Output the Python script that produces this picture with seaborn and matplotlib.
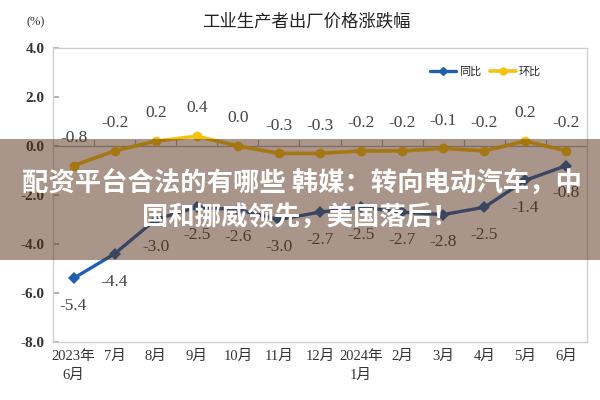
import matplotlib
matplotlib.use("Agg")
import matplotlib.pyplot as plt
from matplotlib.patches import Rectangle
from matplotlib.lines import Line2D
import seaborn as sns
import pandas as pd
import numpy as np

# ---- data ----
months = ["2023年\n6月", "7月", "8月", "9月", "10月", "11月", "12月",
          "2024年\n1月", "2月", "3月", "4月", "5月", "6月"]
yoy = [-5.4, -4.4, -3.0, -2.5, -2.6, -3.0, -2.7, -2.5, -2.7, -2.8, -2.5, -1.4, -0.8]
mom = [-0.8, -0.2, 0.2, 0.4, 0.0, -0.3, -0.3, -0.2, -0.2, -0.1, -0.2, 0.2, -0.2]
yticks = [4.0, 2.0, 0.0, -2.0, -4.0, -6.0, -8.0]
title = "工业生产者出厂价格涨跌幅"
series_names = ["同比", "环比"]
banner_lines = ["配资平台合法的有哪些 韩媒：转向电动汽车，中", "国和挪威领先，美国落后！"]

sns.set_theme(style="white")
plt.rcParams["font.family"] = ["Liberation Serif", "Noto Sans CJK SC", "DejaVu Sans"]

BLUE = "#1f5fb0"
GOLD = "#f5c210"

df = pd.DataFrame({"idx": np.arange(len(months)), "yoy": yoy, "mom": mom})

fig = plt.figure(figsize=(6, 4), dpi=100)
ax = fig.add_axes([53/600, 1-342/400, 534/600, 294/400])

sns.lineplot(data=df, x="idx", y="yoy", ax=ax, color=BLUE, lw=2.4,
             marker="D", markersize=6, markeredgewidth=0, zorder=3)
sns.lineplot(data=df, x="idx", y="mom", ax=ax, color=GOLD, lw=2.6,
             marker="o", markersize=7, markeredgewidth=0, zorder=3)

ax.set_xlim(-0.5, len(months) - 0.5)
ax.set_ylim(-8, 4)
ax.set_xlabel("")
ax.set_ylabel("")

for s in ax.spines.values():
    s.set_color("#cfcfcf")
    s.set_linewidth(1.0)

ax.axhline(0, color="#a8a8a8", lw=0.9, zorder=1)
for b in np.arange(0.5, len(months) - 0.5, 1.0):
    ax.plot([b, b], [0, 0.25], color="#a8a8a8", lw=0.9, zorder=1)

ax.set_yticks(yticks)
ax.set_yticklabels([f"{v:.1f}" for v in yticks], fontsize=11, fontweight="bold",
                   color="#333333", family=["Liberation Serif"])
ax.tick_params(axis="y", direction="in", length=4, color="#a8a8a8", left=True, pad=6)
ax.set_xticks(np.arange(len(months)))
ax.set_xticklabels(months, fontsize=10.5, color="#333333",
                   family=["Liberation Serif", "Noto Sans CJK SC"], linespacing=1.5)
ax.tick_params(axis="x", length=0, pad=6)

for i, (a, b) in enumerate(zip(yoy, mom)):
    ax.annotate(f"{b:.1f}", (i, b), xytext=(0, 20), textcoords="offset points",
                ha="center", va="center", fontsize=12.5, color="#444444")
    ax.annotate(f"{a:.1f}", (i, a), xytext=(0, -20), textcoords="offset points",
                ha="center", va="center", fontsize=12.5, color="#444444")

handles = [Line2D([0], [0], color=BLUE, lw=2.4, marker="D", markersize=4),
           Line2D([0], [0], color=GOLD, lw=2.6, marker="o", markersize=5)]
ax.legend(handles, series_names, loc="center", bbox_to_anchor=(0.81, 0.918), ncol=2,
          frameon=False, handlelength=2.3, columnspacing=0.8,
          handletextpad=0.3, prop={"family": ["Noto Sans CJK SC"], "size": 8})

fig.text(0.511, 1-22/400, title, ha="center", va="center", fontsize=12.5,
         family=["Noto Sans CJK SC"], color="#222222")
fig.text(36/600, 1-22/400, "(%)", ha="center", va="center", fontsize=9,
         color="#333333")

rect = Rectangle((0, 1-260/400), 1, 121/400, transform=fig.transFigure,
                 facecolor=(85/255, 45/255, 21/255), alpha=0.5, edgecolor="none",
                 zorder=10)
fig.patches.append(rect)
fig.text(0.503, 1-184/400, banner_lines[0], ha="center", va="center", fontsize=19,
         fontweight="bold", color="white", family=["Noto Sans CJK SC"], zorder=11)
fig.text(0.5, 1-217/400, banner_lines[1], ha="center", va="center", fontsize=19,
         fontweight="bold", color="white", family=["Noto Sans CJK SC"], zorder=11)

fig.savefig("out.png", dpi=100)
